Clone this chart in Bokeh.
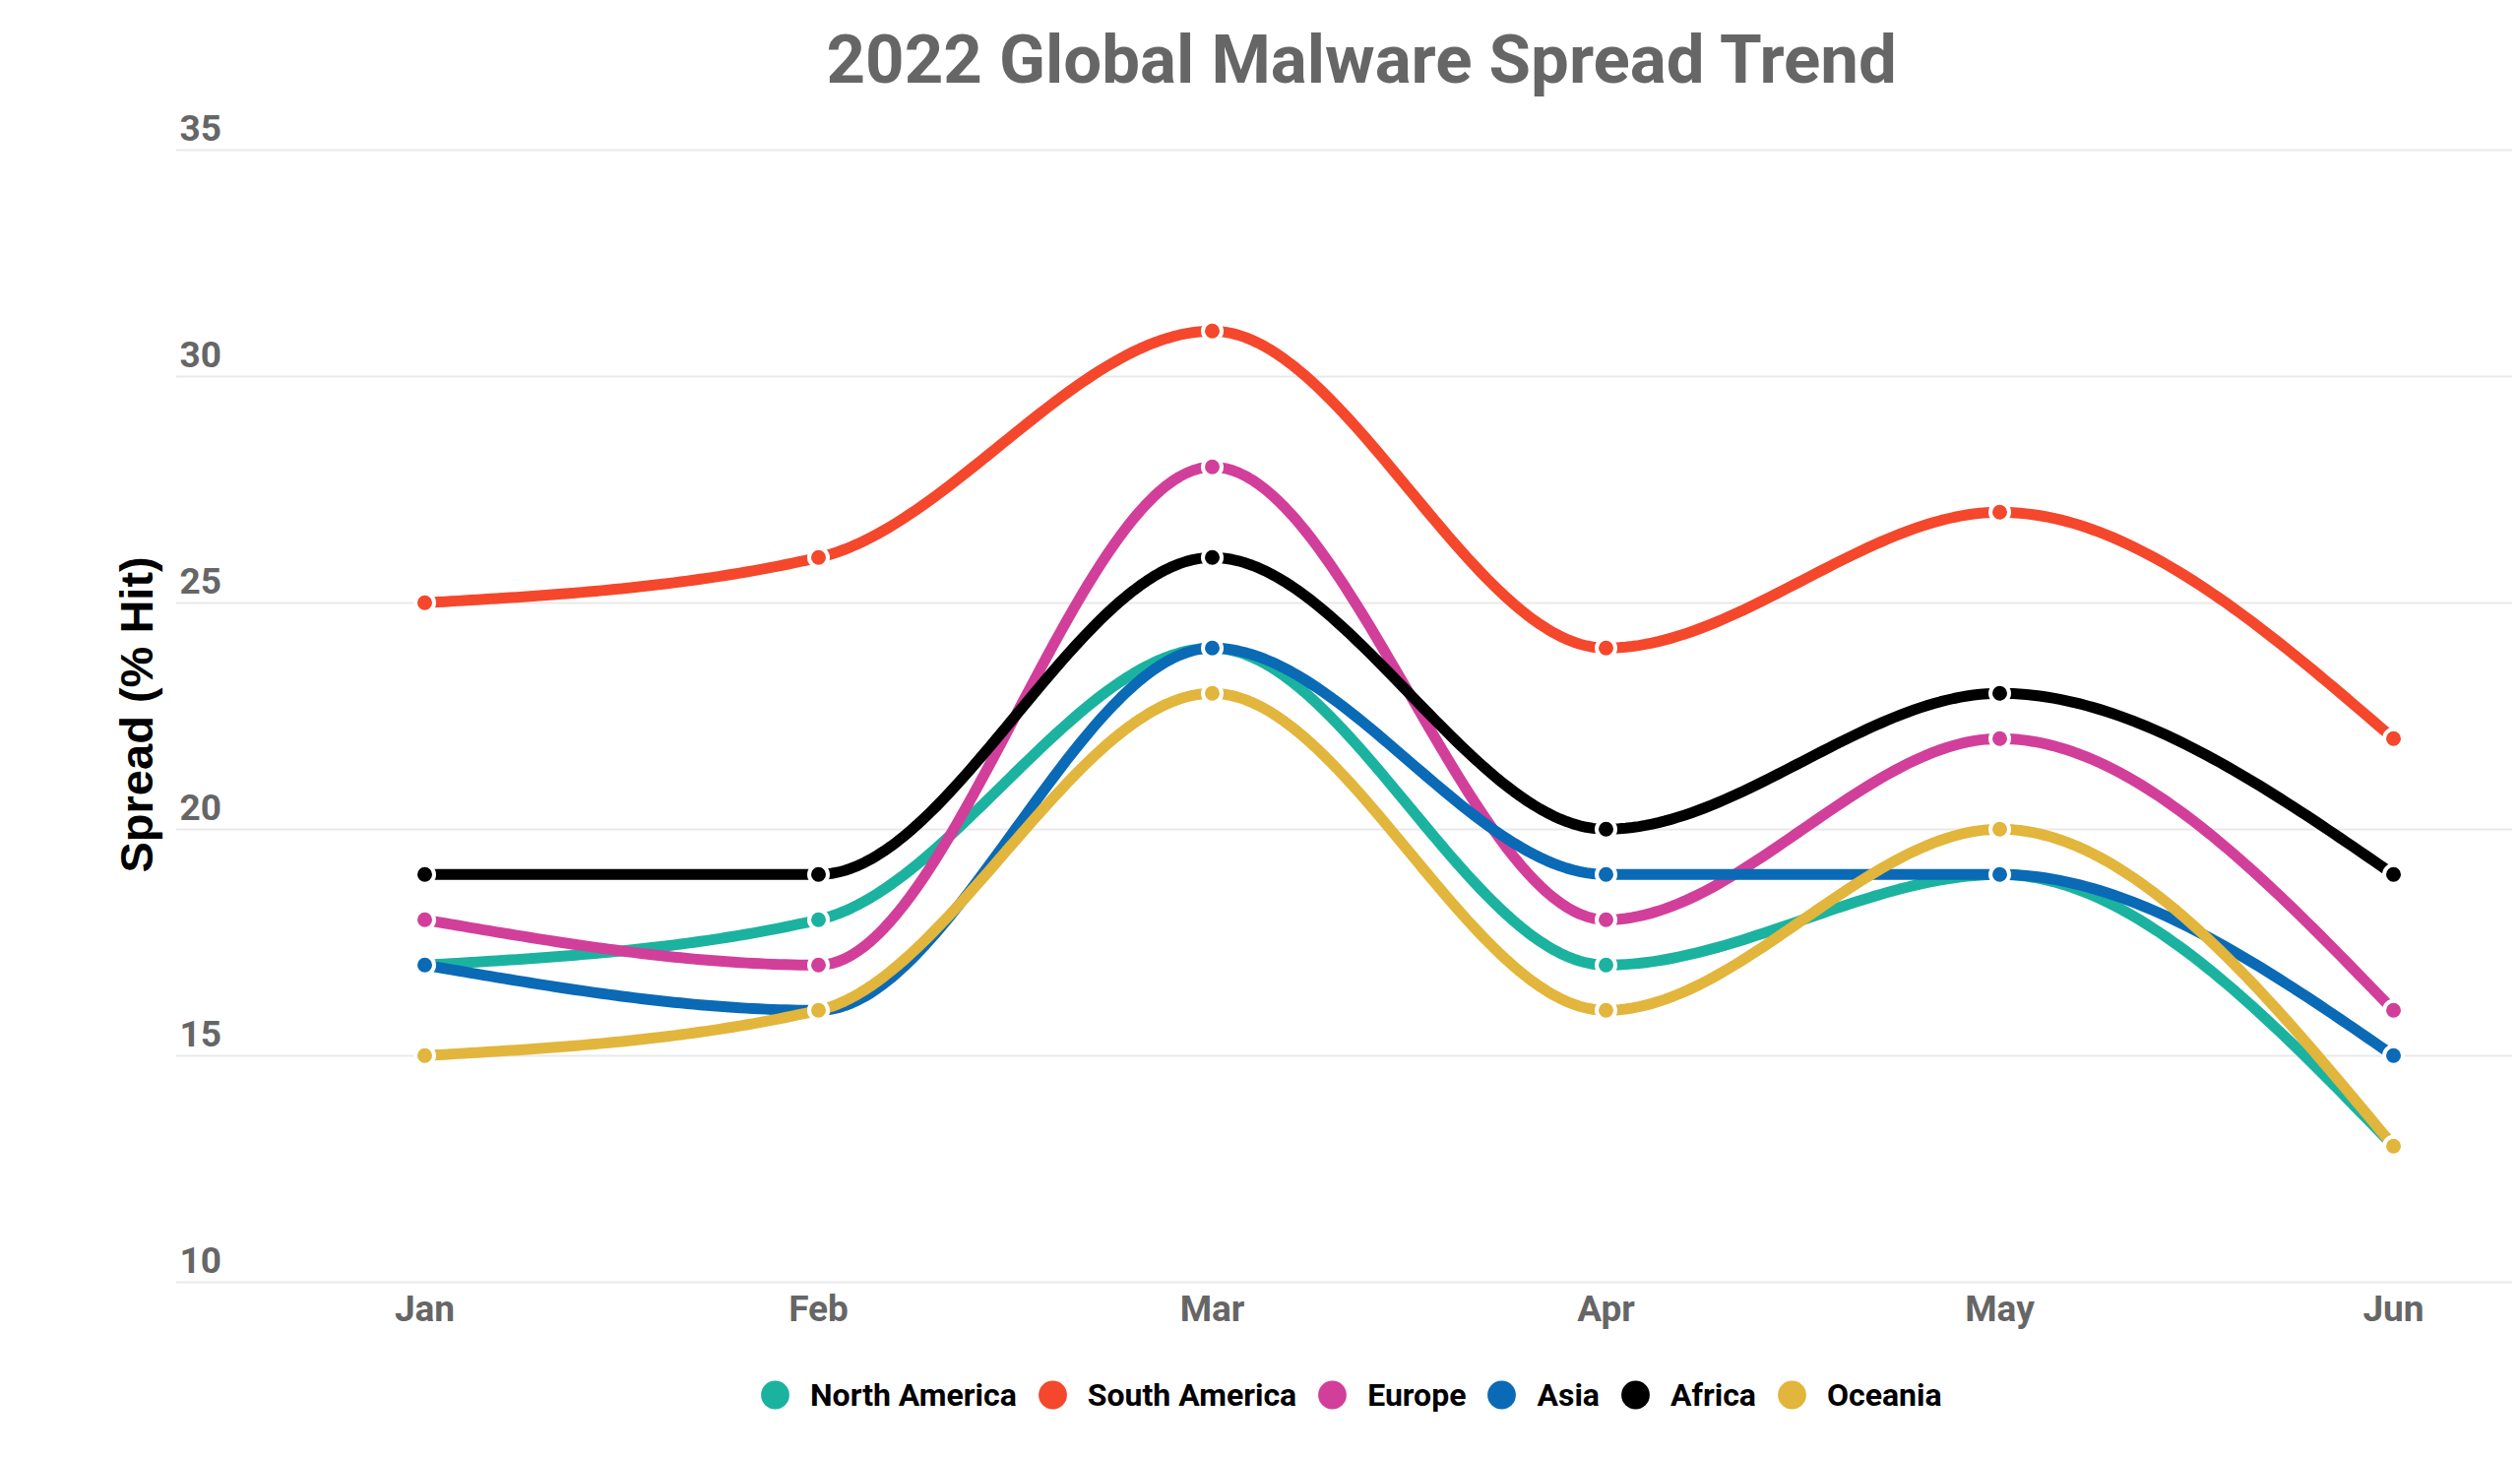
import numpy as np
from bokeh.plotting import figure
from bokeh.models import Range1d, Legend, LegendItem, FixedTicker, Title
from bokeh.core.properties import value
from bokeh.embed import file_html
from bokeh.resources import INLINE

# ---------------- data ----------------
months = ["Jan", "Feb", "Mar", "Apr", "May", "Jun"]
north_america = [17, 18, 24, 17, 19, 13]
south_america = [25, 26, 31, 24, 27, 22]
europe = [18, 17, 28, 18, 22, 16]
asia = [17, 16, 24, 19, 19, 15]
africa = [19, 19, 26, 20, 23, 19]
oceania = [15, 16, 23, 16, 20, 13]
series_names = ["North America", "South America", "Europe", "Asia", "Africa", "Oceania"]
series_values = [north_america, south_america, europe, asia, africa, oceania]
colors = ["#1bb3a0", "#f4472c", "#d23f9b", "#0a6ab6", "#000000", "#e2b53c"]
y_ticks = [10, 15, 20, 25, 30, 35]
title_text = "2022 Global Malware Spread Trend"
y_label = "Spread (% Hit)"


def monotone_curve(xs, ys, n=60):
    """Monotone cubic (d3 curveMonotoneX style) rendering of a polyline."""
    xs = np.asarray(xs, float)
    ys = np.asarray(ys, float)
    m = len(xs)
    h = np.diff(xs)
    s = np.diff(ys) / h
    t = np.zeros(m)
    for i in range(1, m - 1):
        s0, s1 = s[i - 1], s[i]
        h0, h1 = h[i - 1], h[i]
        p_ = (s0 * h1 + s1 * h0) / (h0 + h1)
        t[i] = (np.sign(s0) + np.sign(s1)) * min(abs(s0), abs(s1), 0.5 * abs(p_))
    t[0] = (3 * s[0] - t[1]) / 2
    t[-1] = (3 * s[-1] - t[-2]) / 2
    ox, oy = [], []
    for i in range(m - 1):
        u = np.linspace(0, 1, n, endpoint=(i == m - 2))
        dx = h[i]
        h00 = 2 * u**3 - 3 * u**2 + 1
        h10 = u**3 - 2 * u**2 + u
        h01 = -2 * u**3 + 3 * u**2
        h11 = u**3 - u**2
        ox.extend(xs[i] + u * dx)
        oy.extend(h00 * ys[i] + h10 * dx * t[i] + h01 * ys[i + 1] + h11 * dx * t[i + 1])
    return ox, oy


idx = list(range(len(months)))
x_start, x_end = -0.6325, 5.3025
y_start = 6.3
y_end = y_start + 1367 / 46.0
grid_base = y_ticks[0]

p = figure(
    width=2552, height=1472,
    output_backend="svg", toolbar_location=None,
    x_range=Range1d(x_start, x_end), y_range=Range1d(y_start, y_end),
    min_border_left=178, min_border_right=0, min_border_top=105, min_border_bottom=0,
    title=title_text,
)
p.outline_line_color = None
p.background_fill_color = "white"
p.border_fill_color = "white"

p.title.text_font = "Roboto"
p.title.text_font_style = "bold"
p.title.text_font_size = "69px"
p.title.text_color = "#666666"
p.title.align = "left"
p.title.offset = 661

# grid
p.xgrid.visible = False
p.ygrid.ticker = FixedTicker(ticks=y_ticks)
p.ygrid.grid_line_color = "#e9e9e9"
p.ygrid.grid_line_width = 2

p.xaxis.visible = False
p.yaxis.visible = False

# vertical axis title on the left, centred on the 10-35 band
ytitle = Title(
    text=y_label, align="left", offset=586, standoff=28,
    text_font="Liberation Sans", text_font_style="bold",
    text_font_size="47px", text_color="black",
)
p.add_layout(ytitle, "left")

# y tick labels sitting above their grid lines
p.text(
    x=[x_start] * len(y_ticks), y=y_ticks, text=[str(t) for t in y_ticks],
    x_offset=4, y_offset=-22, text_align="left", text_baseline="alphabetic",
    text_font=value("Roboto"), text_font_style="bold", text_font_size="37px",
    text_color="#666666",
)

# month labels under the bottom grid line
p.text(
    x=idx, y=[grid_base] * len(idx), text=months,
    y_offset=27, text_align="center", text_baseline="middle",
    text_font=value("Roboto"), text_font_style="bold", text_font_size="37px",
    text_color="#666666",
)

items = []
for name, vals, c in zip(series_names, series_values, colors):
    cx, cy = monotone_curve(idx, vals)
    # plain fill swatch (hidden under the outlined markers) used for the legend
    swatch = p.scatter(idx, vals, size=17, fill_color=c, line_color=None)
    p.line(cx, cy, line_width=11, line_color=c, line_join="round")
    p.scatter(idx, vals, size=19, fill_color=c, line_color="white", line_width=4)
    items.append(LegendItem(label=name, renderers=[swatch]))

legend = Legend(
    items=items, orientation="horizontal", location=(573, 18),
    glyph_width=72, glyph_height=75, label_standoff=0, spacing=0,
    padding=0, margin=0, border_line_color=None, background_fill_alpha=0,
    label_text_font="Roboto", label_text_font_style="bold",
    label_text_font_size="32px", label_text_color="black",
)
p.add_layout(legend, "center")

open("out.html", "w").write(file_html(p, INLINE))
